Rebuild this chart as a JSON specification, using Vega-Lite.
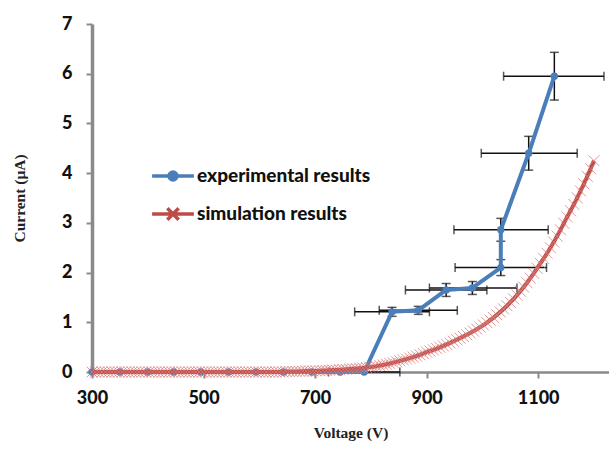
{
  "$schema": "https://vega.github.io/schema/vega-lite/v6.json",
  "width": 517,
  "height": 348,
  "autosize": "none",
  "padding": {"left": 92, "top": 24, "right": 0, "bottom": 80},
  "background": "white",
  "config": {
    "view": {"stroke": null},
    "axis": {
      "grid": false,
      "labelFlush": false,
      "domainColor": "#8a8a8a",
      "tickColor": "#8a8a8a",
      "labelFont": "Lato",
      "labelFontWeight": 900,
      "labelFontSize": 18,
      "labelColor": "#111111",
      "titleFont": "Liberation Serif",
      "titleFontWeight": "bold",
      "titleFontSize": 15.5,
      "titleColor": "#222222"
    }
  },
  "datasets": {
    "exp": [
      {"k": 1, "V": 300, "I": 0},
      {"k": 2, "V": 350, "I": 0},
      {"k": 3, "V": 400, "I": 0},
      {"k": 4, "V": 446, "I": 0},
      {"k": 5, "V": 495, "I": 0},
      {"k": 6, "V": 545, "I": 0},
      {"k": 7, "V": 594, "I": 0},
      {"k": 8, "V": 643, "I": 0},
      {"k": 9, "V": 694, "I": 0},
      {"k": 10, "V": 745, "I": 0},
      {"k": 11, "V": 788, "I": 0, "xlo": 724, "xhi": 852},
      {"k": 12, "V": 838, "I": 1.21, "xlo": 771, "xhi": 905, "ylo": 1.12, "yhi": 1.30},
      {"k": 13, "V": 885, "I": 1.24, "xlo": 815, "xhi": 955, "ylo": 1.16, "yhi": 1.32},
      {"k": 14, "V": 935, "I": 1.65, "xlo": 862, "xhi": 1008, "ylo": 1.52, "yhi": 1.78},
      {"k": 15, "V": 982, "I": 1.69, "xlo": 905, "xhi": 1062, "ylo": 1.56, "yhi": 1.82},
      {"k": 16, "V": 1033, "I": 2.1, "xlo": 951, "xhi": 1115, "ylo": 1.94, "yhi": 2.26},
      {"k": 17, "V": 1033, "I": 2.86, "xlo": 949, "xhi": 1118, "ylo": 2.63, "yhi": 3.09},
      {"k": 18, "V": 1083, "I": 4.4, "xlo": 998, "xhi": 1170, "ylo": 4.06, "yhi": 4.74},
      {"k": 19, "V": 1129, "I": 5.95, "xlo": 1038, "xhi": 1218, "ylo": 5.47, "yhi": 6.43}
    ],
    "sim": [
      {"V": 300, "I": 0}, {"V": 306, "I": 0}, {"V": 312, "I": 0}, {"V": 318, "I": 0}, {"V": 324, "I": 0},
      {"V": 330, "I": 0}, {"V": 336, "I": 0}, {"V": 342, "I": 0}, {"V": 348, "I": 0}, {"V": 354, "I": 0},
      {"V": 360, "I": 0}, {"V": 366, "I": 0}, {"V": 372, "I": 0}, {"V": 378, "I": 0}, {"V": 384, "I": 0},
      {"V": 390, "I": 0}, {"V": 396, "I": 0}, {"V": 402, "I": 0}, {"V": 408, "I": 0}, {"V": 414, "I": 0},
      {"V": 420, "I": 0}, {"V": 426, "I": 0}, {"V": 432, "I": 0}, {"V": 438, "I": 0}, {"V": 444, "I": 0},
      {"V": 450, "I": 0}, {"V": 456, "I": 0}, {"V": 462, "I": 0}, {"V": 468, "I": 0}, {"V": 474, "I": 0},
      {"V": 480, "I": 0}, {"V": 486, "I": 0}, {"V": 492, "I": 0}, {"V": 498, "I": 0}, {"V": 504, "I": 0},
      {"V": 510, "I": 0}, {"V": 516, "I": 0}, {"V": 522, "I": 0}, {"V": 528, "I": 0}, {"V": 534, "I": 0},
      {"V": 540, "I": 0}, {"V": 546, "I": 0}, {"V": 552, "I": 0}, {"V": 558, "I": 0}, {"V": 564, "I": 0},
      {"V": 570, "I": 0}, {"V": 576, "I": 0}, {"V": 582, "I": 0}, {"V": 588, "I": 0}, {"V": 594, "I": 0},
      {"V": 600, "I": 0}, {"V": 606, "I": 0}, {"V": 612, "I": 0}, {"V": 618, "I": 0}, {"V": 624, "I": 0},
      {"V": 630, "I": 0}, {"V": 636, "I": 0}, {"V": 642, "I": 0}, {"V": 648, "I": 0.01}, {"V": 654, "I": 0.01},
      {"V": 660, "I": 0.01}, {"V": 666, "I": 0.01}, {"V": 672, "I": 0.015}, {"V": 678, "I": 0.015}, {"V": 684, "I": 0.02},
      {"V": 690, "I": 0.02}, {"V": 696, "I": 0.02}, {"V": 702, "I": 0.02}, {"V": 708, "I": 0.025}, {"V": 714, "I": 0.03},
      {"V": 720, "I": 0.03}, {"V": 726, "I": 0.035}, {"V": 732, "I": 0.04}, {"V": 738, "I": 0.04}, {"V": 744, "I": 0.045},
      {"V": 750, "I": 0.05}, {"V": 756, "I": 0.054}, {"V": 762, "I": 0.059}, {"V": 768, "I": 0.065}, {"V": 774, "I": 0.07},
      {"V": 780, "I": 0.076}, {"V": 786, "I": 0.083}, {"V": 792, "I": 0.09}, {"V": 798, "I": 0.098}, {"V": 804, "I": 0.107},
      {"V": 810, "I": 0.117}, {"V": 816, "I": 0.129}, {"V": 822, "I": 0.142}, {"V": 828, "I": 0.156}, {"V": 834, "I": 0.171},
      {"V": 840, "I": 0.188}, {"V": 846, "I": 0.207}, {"V": 852, "I": 0.225}, {"V": 858, "I": 0.242}, {"V": 864, "I": 0.26},
      {"V": 870, "I": 0.279}, {"V": 876, "I": 0.3}, {"V": 882, "I": 0.322}, {"V": 888, "I": 0.346}, {"V": 894, "I": 0.372},
      {"V": 900, "I": 0.4}, {"V": 906, "I": 0.422}, {"V": 912, "I": 0.446}, {"V": 918, "I": 0.471}, {"V": 924, "I": 0.497},
      {"V": 930, "I": 0.525}, {"V": 936, "I": 0.554}, {"V": 942, "I": 0.585}, {"V": 948, "I": 0.618}, {"V": 954, "I": 0.65},
      {"V": 960, "I": 0.681}, {"V": 966, "I": 0.714}, {"V": 972, "I": 0.748}, {"V": 978, "I": 0.784}, {"V": 984, "I": 0.822},
      {"V": 990, "I": 0.861}, {"V": 996, "I": 0.903}, {"V": 1002, "I": 0.945}, {"V": 1008, "I": 0.993}, {"V": 1014, "I": 1.043},
      {"V": 1020, "I": 1.095}, {"V": 1026, "I": 1.15}, {"V": 1032, "I": 1.208}, {"V": 1038, "I": 1.269}, {"V": 1044, "I": 1.333},
      {"V": 1050, "I": 1.4}, {"V": 1056, "I": 1.471}, {"V": 1062, "I": 1.546}, {"V": 1068, "I": 1.625}, {"V": 1074, "I": 1.708},
      {"V": 1080, "I": 1.795}, {"V": 1086, "I": 1.887}, {"V": 1092, "I": 1.983}, {"V": 1098, "I": 2.084}, {"V": 1104, "I": 2.184},
      {"V": 1110, "I": 2.284}, {"V": 1116, "I": 2.389}, {"V": 1122, "I": 2.499}, {"V": 1128, "I": 2.614}, {"V": 1134, "I": 2.734},
      {"V": 1140, "I": 2.859}, {"V": 1146, "I": 2.991}, {"V": 1152, "I": 3.12}, {"V": 1158, "I": 3.243}, {"V": 1164, "I": 3.371},
      {"V": 1170, "I": 3.504}, {"V": 1176, "I": 3.642}, {"V": 1182, "I": 3.785}, {"V": 1188, "I": 3.934}, {"V": 1194, "I": 4.089},
      {"V": 1200, "I": 4.25}
    ]
  },
  "layer": [
    {
      "data": {"name": "exp"},
      "transform": [{"filter": "isValid(datum.xlo)"}],
      "mark": {"type": "errorbar", "ticks": {"size": 9, "color": "#111111", "thickness": 1.5}, "color": "#111111", "thickness": 1.5},
      "encoding": {
        "x": {"field": "xlo", "type": "quantitative", "title": "Voltage (V)", "scale": {"domain": [300, 1227], "nice": false, "zero": false}},
        "x2": {"field": "xhi"},
        "y": {"field": "I", "type": "quantitative", "title": "Current (μA)", "scale": {"domain": [0, 7], "nice": false}}
      }
    },
    {
      "data": {"name": "exp"},
      "transform": [{"filter": "isValid(datum.ylo)"}],
      "mark": {"type": "errorbar", "ticks": {"size": 9, "color": "#111111", "thickness": 1.5}, "color": "#111111", "thickness": 1.5},
      "encoding": {
        "x": {"field": "V", "type": "quantitative", "title": "Voltage (V)"},
        "y": {"field": "ylo", "type": "quantitative", "title": "Current (μA)"},
        "y2": {"field": "yhi"}
      }
    },
    {
      "data": {"name": "exp"},
      "mark": {"type": "line", "strokeWidth": 4, "strokeJoin": "round"},
      "encoding": {
        "x": {"field": "V", "type": "quantitative", "title": "Voltage (V)",
          "axis": {"values": [300, 500, 700, 900, 1100], "format": "d", "domainWidth": 2.5, "tickSize": 6, "tickWidth": 2, "labelPadding": 11, "titlePadding": 18}},
        "y": {"field": "I", "type": "quantitative", "title": "Current (μA)",
          "axis": {"values": [0, 1, 2, 3, 4, 5, 6, 7], "format": "d", "domainWidth": 3.5, "tickSize": 6, "tickWidth": 2, "labelPadding": 14, "titlePadding": 34}},
        "order": {"field": "k", "type": "quantitative"},
        "color": {
          "datum": "experimental results",
          "scale": {"domain": ["experimental results", "simulation results"], "range": ["#4A7EBB", "#BE4B48"]},
          "legend": {
            "title": null,
            "orient": "none",
            "legendX": 60,
            "legendY": 131,
            "padding": 0,
            "symbolSize": 1444,
            "symbolStrokeWidth": 3.5,
            "labelFont": "Lato",
            "labelFontWeight": 900,
            "labelFontSize": 19,
            "labelLimit": 400,
            "labelColor": "#111111",
            "labelOffset": 3,
            "rowPadding": 6,
            "encode": {
              "symbols": {
                "update": {
                  "shape": {"signal": "datum.value === 'experimental results' ? 'M-1.1,0H1.1M-0.21,0A0.21,0.21 0 1,0 0.21,0A0.21,0.21 0 1,0 -0.21,0Z' : 'M-1.1,0H1.1M-0.3,-0.3L0.3,0.3M-0.3,0.3L0.3,-0.3'"},
                  "fill": {"signal": "datum.value === 'experimental results' ? '#4A7EBB' : 'transparent'"}
                }
              }
            }
          }
        }
      }
    },
    {
      "data": {"name": "exp"},
      "mark": {"type": "circle", "size": 55, "color": "#4A7EBB", "opacity": 1},
      "encoding": {
        "x": {"field": "V", "type": "quantitative", "title": "Voltage (V)"},
        "y": {"field": "I", "type": "quantitative", "title": "Current (μA)"}
      }
    },
    {
      "data": {"name": "sim"},
      "mark": {"type": "line", "strokeWidth": 4},
      "encoding": {
        "x": {"field": "V", "type": "quantitative", "title": "Voltage (V)"},
        "y": {"field": "I", "type": "quantitative", "title": "Current (μA)"},
        "color": {"datum": "simulation results"}
      }
    },
    {
      "data": {"name": "sim"},
      "mark": {"type": "point", "shape": "M-1,-1L1,1M-1,1L1,-1", "size": 121, "filled": false, "stroke": "#D9807D", "strokeWidth": 1, "opacity": 0.8},
      "encoding": {
        "x": {"field": "V", "type": "quantitative", "title": "Voltage (V)"},
        "y": {"field": "I", "type": "quantitative", "title": "Current (μA)"}
      }
    },
    {
      "mark": {"type": "point", "shape": "triangle-up", "size": 80, "filled": true, "color": "#8a8a8a", "opacity": 1},
      "encoding": {
        "x": {"datum": 300, "type": "quantitative"},
        "y": {"datum": 6.9, "type": "quantitative"}
      }
    }
  ]
}
